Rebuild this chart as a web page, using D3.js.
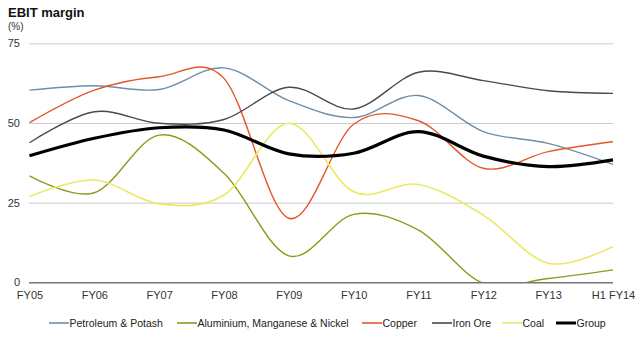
<!DOCTYPE html>
<html><head><meta charset="utf-8">
<script src="https://cdn.jsdelivr.net/npm/d3@7"></script>
<style>body{margin:0;background:#fff;}svg{display:block;font-family:"Liberation Sans",Arial,sans-serif;}</style>
</head><body><svg id="c" width="640" height="337"></svg>
<script>
const categories = ["FY05","FY06","FY07","FY08","FY09","FY10","FY11","FY12","FY13","H1 FY14"];
const petroleum = [60.3, 61.7, 60.5, 67.3, 57.0, 51.7, 58.6, 47.3, 43.6, 37.0];
const aluminium = [33.4, 28.1, 46.2, 34.2, 8.3, 21.3, 16.4, -0.3, 1.2, 3.9];
const copper    = [50.1, 60.3, 64.5, 64.0, 20.1, 49.6, 50.7, 35.8, 41.0, 44.1];
const ironOre   = [43.8, 53.5, 49.9, 51.1, 61.2, 54.4, 65.9, 63.3, 60.1, 59.3];
const coal      = [26.9, 32.1, 24.6, 27.4, 49.9, 28.4, 30.7, 21.1, 6.0, 11.2];
const group     = [39.7, 45.2, 48.5, 47.8, 40.3, 40.5, 47.3, 39.6, 36.3, 38.4];
const yTicks = [0, 25, 50, 75];

const series = [
  {name:"Petroleum & Potash", values:petroleum, color:"#6f8ea6", w:1.4},
  {name:"Aluminium, Manganese & Nickel", values:aluminium, color:"#8c9a1c", w:1.4},
  {name:"Copper", values:copper, color:"#e2582a", w:1.4},
  {name:"Iron Ore", values:ironOre, color:"#4a4a4a", w:1.4},
  {name:"Coal", values:coal, color:"#e9ea62", w:1.6},
  {name:"Group", values:group, color:"#000000", w:3.2}
];

const svg = d3.select("#c");
const x = d3.scalePoint().domain(categories).range([29.5, 613]);
const y = d3.scaleLinear().domain([0, 75]).range([282.3, 43.3]);

svg.append("text").attr("x",8).attr("y",17).attr("font-size",13).attr("font-weight","bold").attr("fill","#111").text("EBIT margin");
svg.append("text").attr("x",8).attr("y",29.5).attr("font-size",10).attr("fill","#333").text("(%)");

// gridlines
const yAxis = d3.axisLeft(y).tickValues(yTicks).tickSize(-(613-29)).tickPadding(9);
const ga = svg.append("g").attr("transform","translate(29,0)").call(yAxis);
ga.select(".domain").remove();
ga.selectAll(".tick line").attr("stroke", d => d===0 ? "#777" : "#c9c9c9").attr("stroke-width", d => d===0 ? 1.4 : 1);
ga.selectAll(".tick text").attr("font-size",11).attr("fill","#333").attr("font-family","Liberation Sans, Arial, sans-serif");

const xAxis = d3.axisBottom(x).tickSize(0).tickPadding(8);
const gx = svg.append("g").attr("transform","translate(0,283)").call(xAxis);
gx.select(".domain").remove();
gx.selectAll(".tick text").attr("font-size",11).attr("fill","#333").attr("font-family","Liberation Sans, Arial, sans-serif");

svg.append("clipPath").attr("id","clip").append("rect").attr("x",0).attr("y",0).attr("width",640).attr("height",y(0));

const line = d3.line().x((d,i)=>x(categories[i])).y(d=>y(d)).curve(d3.curveCardinal.tension(0));
const lg = svg.append("g").attr("clip-path","url(#clip)");
series.forEach(s=>{
  lg.append("path").attr("d", line(s.values)).attr("fill","none").attr("stroke",s.color).attr("stroke-width",s.w).attr("stroke-linejoin","round");
});

// legend
const legX = [49, 177, 362, 432, 502, 556];
const leg = svg.append("g");
series.forEach((s,i)=>{
  leg.append("line").attr("x1",legX[i]).attr("x2",legX[i]+20).attr("y1",323).attr("y2",323).attr("stroke",s.color).attr("stroke-width", s.name==="Group"?3:1.6);
  leg.append("text").attr("x",legX[i]+20.5).attr("y",326.8).attr("font-size",10.5).attr("fill","#222").text(s.name);
});
</script></body></html>
